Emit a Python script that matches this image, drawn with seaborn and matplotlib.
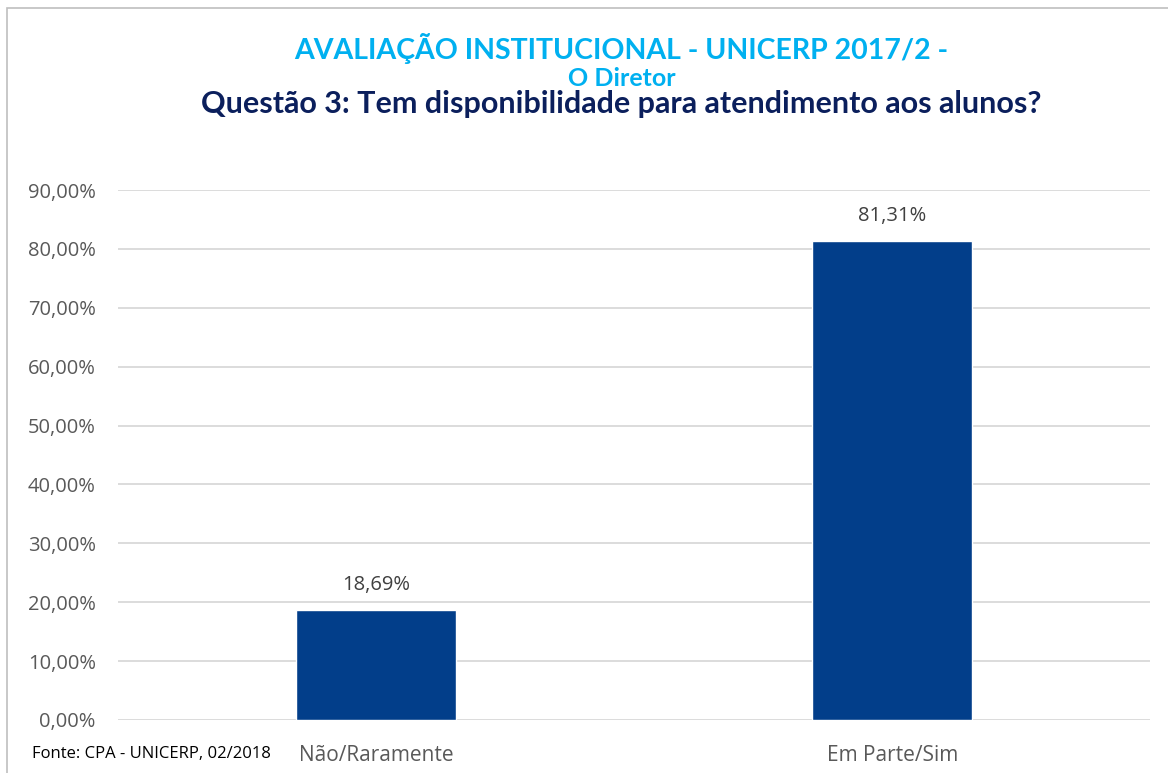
import matplotlib
matplotlib.use("Agg")
import matplotlib.pyplot as plt
import matplotlib.patches as mpatches
import seaborn as sns
import pandas as pd

# data
categories = ["Não/Raramente", "Em Parte/Sim"]
values = [18.69, 81.31]
y_ticks = [0, 10, 20, 30, 40, 50, 60, 70, 80, 90]

sns.set_style("white")
plt.rcParams['font.family'] = ['Open Sans', 'DejaVu Sans']

df = pd.DataFrame({'categoria': categories, 'valor': values})

fig = plt.figure(figsize=(11.68, 7.73), dpi=100)
ax = fig.add_axes([0.101, 0.0686, 0.884, 0.6856])

sns.barplot(data=df, x='categoria', y='valor', color='#023E8A', width=0.31,
            saturation=1, ax=ax, zorder=3)

ax.set_ylim(0, 90)
ax.set_yticks(y_ticks)
ax.set_yticklabels([f"{t:.2f}%".replace('.', ',') for t in y_ticks])
ax.set_xlim(-0.5, 1.5)
ax.grid(axis='y', color='#D9D9D9', linewidth=1.3, zorder=0)
for s in ax.spines.values():
    s.set_visible(False)
ax.tick_params(axis='y', length=0, labelsize=14.5, labelcolor='#595959', pad=16)
ax.tick_params(axis='x', length=0, labelsize=15, labelcolor='#595959', pad=18)
ax.set_xlabel('')
ax.set_ylabel('')

# value labels on top of the bars
for i, v in enumerate(values):
    ax.text(i, v + 2.5, f"{v:.2f}%".replace('.', ','), ha='center', va='bottom',
            fontsize=14.5, color='#404040')

# titles
title_font = ['Lato', 'DejaVu Sans']
fig.text(0.532, 0.937, "AVALIAÇÃO INSTITUCIONAL - UNICERP 2017/2 -", ha='center', va='center',
         fontsize=20.5, fontweight='bold', color='#00B0F0', family=title_font)
fig.text(0.532, 0.899, "O Diretor", ha='center', va='center',
         fontsize=18, fontweight='bold', color='#00B0F0', family=title_font)
fig.text(0.532, 0.865, "Questão 3: Tem disponibilidade para atendimento aos alunos?", ha='center',
         va='center', fontsize=22, fontweight='bold', color='#0B1F5C', family=title_font)

fig.text(0.027, 0.024, "Fonte: CPA - UNICERP, 02/2018", ha='left', va='center',
         fontsize=12, color='#000000')

# thin frame around the chart
fig.add_artist(mpatches.Rectangle((0.006, -0.01), 1.1, 1.0, transform=fig.transFigure,
                                  fill=False, edgecolor='#BFBFBF', linewidth=1.2))

fig.savefig('out.png', dpi=100)
